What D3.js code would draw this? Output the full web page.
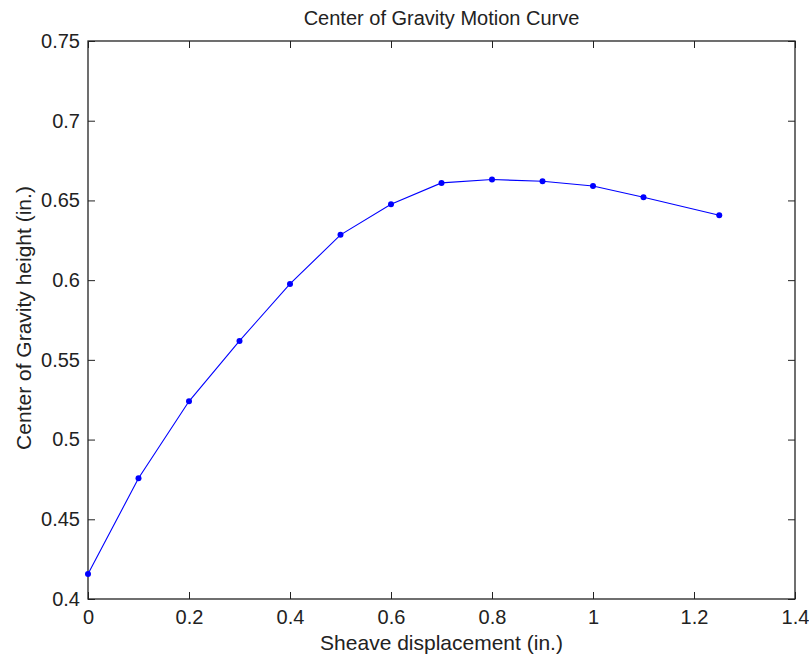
<!DOCTYPE html>
<html>
<head>
<meta charset="utf-8">
<script src="https://cdn.jsdelivr.net/npm/d3@7"></script>
<style>
  body { margin: 0; background: #fff; }
  text { font-family: "Liberation Sans", Arial, sans-serif; fill: #222; }
</style>
</head>
<body>
<script>
// data
const displacement = [0, 0.1, 0.2, 0.3, 0.4, 0.5, 0.6, 0.7, 0.8, 0.9, 1.0, 1.1, 1.25];
const cgHeight = [0.4157, 0.4757, 0.524, 0.5619, 0.5976, 0.6284, 0.6476, 0.661, 0.6631, 0.662, 0.6591, 0.652, 0.6407];
const xTicks = [0, 0.2, 0.4, 0.6, 0.8, 1, 1.2, 1.4];
const yTicks = [0.4, 0.45, 0.5, 0.55, 0.6, 0.65, 0.7, 0.75];

// layout
const W = 809, H = 659;
const margin = { top: 41, right: 14, bottom: 60, left: 88 },
  width = W - margin.left - margin.right,
  height = H - margin.top - margin.bottom;
const tickFs = 20, labelFs = 21;

const svg = d3.select("body").append("svg")
  .attr("width", W)
  .attr("height", H);

const g = svg.append("g")
  .attr("transform", "translate(" + margin.left + "," + margin.top + ")");

// scales
const x = d3.scaleLinear().domain([0, 1.4]).range([0, width]);
const y = d3.scaleLinear().domain([0.4, 0.75]).range([height, 0]);

const fmt = d => String(+d.toFixed(2));

// axes with inward ticks
const styleAxis = sel => {
  sel.select(".domain").remove();
  sel.selectAll(".tick line").attr("stroke", "#222");
  sel.selectAll(".tick text").style("font-size", tickFs + "px").attr("fill", "#222");
};

g.append("g")
  .attr("transform", "translate(0," + height + ")")
  .call(d3.axisBottom(x).tickValues(xTicks).tickFormat(fmt).tickSize(-7).tickPadding(11))
  .call(styleAxis);

g.append("g")
  .call(d3.axisLeft(y).tickValues(yTicks).tickFormat(fmt).tickSize(-7).tickPadding(8))
  .call(styleAxis);

// mirrored ticks on top and right, no labels
g.append("g")
  .call(d3.axisTop(x).tickValues(xTicks).tickFormat("").tickSize(-7))
  .call(styleAxis);

g.append("g")
  .attr("transform", "translate(" + width + ",0)")
  .call(d3.axisRight(y).tickValues(yTicks).tickFormat("").tickSize(-7))
  .call(styleAxis);

// box
g.append("rect")
  .attr("width", width)
  .attr("height", height)
  .attr("fill", "none")
  .attr("stroke", "#222")
  .attr("stroke-width", 1.3);

// line + markers
const pts = displacement.map((d, i) => ({ x: d, y: cgHeight[i] }));

const line = d3.line()
  .x(d => x(d.x))
  .y(d => y(d.y));

g.append("path")
  .datum(pts)
  .attr("d", line)
  .attr("fill", "none")
  .attr("stroke", "#0000ff")
  .attr("stroke-width", 1.1);

g.selectAll(".dot")
  .data(pts)
  .enter().append("circle")
  .attr("class", "dot")
  .attr("cx", d => x(d.x))
  .attr("cy", d => y(d.y))
  .attr("r", 3)
  .attr("fill", "#0000ff");

// title and axis labels
svg.append("text")
  .attr("x", margin.left + width / 2)
  .attr("y", 25)
  .attr("text-anchor", "middle")
  .style("font-size", (labelFs - 1) + "px")
  .text("Center of Gravity Motion Curve");

svg.append("text")
  .attr("x", margin.left + width / 2)
  .attr("y", 650)
  .attr("text-anchor", "middle")
  .style("font-size", labelFs + "px")
  .text("Sheave displacement (in.)");

svg.append("text")
  .attr("transform", "translate(31," + (margin.top + height / 2 - 2) + ") rotate(-90)")
  .attr("text-anchor", "middle")
  .style("font-size", labelFs + "px")
  .text("Center of Gravity height (in.)");
</script>
</body>
</html>
